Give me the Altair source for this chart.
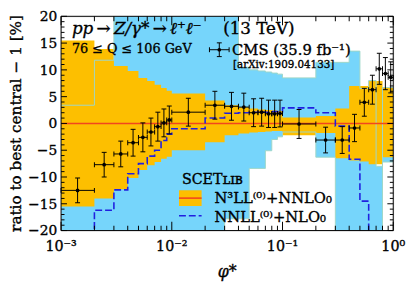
import altair as alt
import pandas as pd

# ---------------- data ----------------
# phi* bin edges (theory bins and CMS bins coincide)
edges = [0.001, 0.002, 0.003, 0.004, 0.005, 0.006, 0.007, 0.008, 0.009,
         0.01, 0.02, 0.03, 0.04, 0.05, 0.06, 0.07, 0.08, 0.09,
         0.1, 0.2, 0.3, 0.4, 0.5, 0.6, 0.7, 0.8, 0.9, 1.0]

# N3LL(0)+NNLO0 band (orange), in % relative to best central
n3ll_hi = [15.5, 13.9, 10.7, 9.8, 8.5, 7.9, 7.2, 6.6, 6.1,
           5.6, 4.3, 3.4, 3.0, 2.8, 2.6, 2.5, 2.4, 2.3,
           1.1, 1.4, 2.8, 7.0, 7.0, 7.9, 7.9, 6.7, 6.7]
n3ll_lo = [-15.5, -14.0, -12.3, -10.2, -8.7, -7.8, -7.2, -6.6, -6.2,
           -5.0, -3.5, -2.2, -1.9, -1.7, -1.6, -1.5, -1.4, -1.4,
           -2.2, -1.8, -6.5, -6.9, -7.1, -7.6, -7.6, -6.3, -6.3]

# NNLL(0)+NLO0 band (light blue) and its central value (dashed)
nnll_hi = [3.4, 11.8, 30, 30, 30, 30, 30, 30, 30,
           30, 30, 30, 10.5, 10.0, 9.8, 9.6, 9.4, 9.2,
           8.5, 11.4, 11.4, 13.5, 6.5, 8.0, -8.0, 6.7, 6.7]
nnll_lo = [-30, -30, -30, -30, -30, -30, -30, -30, -30,
           -30, -30, -17.8, -17.8, -8.4, -8.4, -5.1, -3.0, -2.5,
           -1.6, -6.3, -30, -30, -30, -30, -30, -7.2, -7.2]
nnll_central = [-30, -16.2, -12.4, -9.4, -7.5, -6.1, -5.0, -3.2, -2.0,
                -1.0, 1.0, 1.9, 2.0, 2.1, 2.1, 2.1, 2.2, 2.2,
                2.9, 2.0, -0.5, -6.7, -14.5, -30, -30, -30, -30]

# CMS 13 TeV data
cms_phi = [0.00141, 0.00245, 0.00346, 0.00447, 0.00548, 0.00648, 0.00748, 0.00849, 0.00949,
           0.0141, 0.0245, 0.0346, 0.0447, 0.0548, 0.0648, 0.0748, 0.0849, 0.0949,
           0.141, 0.245, 0.346, 0.447, 0.548, 0.648, 0.748, 0.849, 0.949]
cms_ratio = [-12.5, -7.7, -5.7, -3.6, -2.6, -1.6, -0.6, 0.1, 0.65,
             2.1, 3.4, 3.2, 3.05, 2.0, 2.1, 1.8, 1.8, 1.85,
             -0.1, -3.1, -3.1, -0.85, 3.95, 6.3, 10.2, 9.3, 8.6]
cms_err = [2.3, 2.3, 2.4, 2.5, 2.7, 2.6, 2.7, 2.6, 2.6,
           2.6, 2.6, 2.6, 2.6, 2.6, 2.6, 2.55, 2.55, 2.5,
           2.7, 2.4, 2.5, 2.55, 2.6, 2.7, 2.9, 3.0, 2.9]

# axis ticks and labels
y_major = [-20, -15, -10, -5, 0, 5, 10, 15, 20]
y_labels = ["−20", "−15", "−10", "−5", "0", "5", "10", "15", "20"]
y_minor = [v for v in range(-20, 21) if v % 5 != 0]
x_major = [0.001, 0.01, 0.1, 1.0]
x_labels = ["10⁻³", "10⁻²", "10⁻¹", "10⁰"]
x_minor = [k * 10.0 ** e for e in (-3, -2, -1) for k in range(2, 10)]

# ---------------- tables ----------------
band = pd.DataFrame({
    "x": edges,
    "ohi": n3ll_hi + [n3ll_hi[-1]],
    "olo": n3ll_lo + [n3ll_lo[-1]],
    "bhi": nnll_hi + [nnll_hi[-1]],
    "blo": nnll_lo + [nnll_lo[-1]],
    "bc": nnll_central + [nnll_central[-1]],
})
cms = pd.DataFrame({
    "x": cms_phi, "xlo": edges[:-1], "xhi": edges[1:],
    "y": cms_ratio,
    "ylo": [r - e for r, e in zip(cms_ratio, cms_err)],
    "yhi": [r + e for r, e in zip(cms_ratio, cms_err)],
})

W, H = 338, 218
FONT = "DejaVu Serif"
ORANGE = "#FDBF00"
BLUE = "#76D5FB"
EDGE = "#9ED6C8"
RED = "#F2461E"
DBLUE = "#2020E0"
TSTROKE = dict(stroke="black", strokeWidth=0.35)

xs = alt.Scale(type="log", domain=[0.001, 1.0], nice=False)
ys = alt.Scale(domain=[-20, 20], nice=False, zero=False)


def X(f):
    return alt.X(f, scale=xs, axis=None)


def Y(f):
    return alt.Y(f, scale=ys, axis=None)


base = alt.Chart(band)

blue_band = base.mark_area(interpolate="step-after", clip=True, color=BLUE, opacity=1).encode(
    x=X("x:Q"), y=Y("bhi:Q"), y2="blo:Q")
orange_band = base.mark_area(interpolate="step-after", clip=True, color=ORANGE, opacity=1).encode(
    x=X("x:Q"), y=Y("ohi:Q"), y2="olo:Q")
edge_hi = base.mark_line(interpolate="step-after", clip=True, color=EDGE, strokeWidth=1).encode(
    x=X("x:Q"), y=Y("bhi:Q"))
edge_lo = base.mark_line(interpolate="step-after", clip=True, color=EDGE, strokeWidth=1).encode(
    x=X("x:Q"), y=Y("blo:Q"))
central = alt.Chart(pd.DataFrame({"z": [0]})).mark_rule(color=RED, strokeWidth=1.6).encode(
    y=Y("z:Q"))
dashed = base.mark_line(interpolate="step-after", clip=True, color=DBLUE, strokeWidth=1.6,
                        strokeDash=[7, 3]).encode(x=X("x:Q"), y=Y("bc:Q"))

cb = alt.Chart(cms)
hbar = cb.mark_rule(color="black", strokeWidth=1, clip=True).encode(
    x=X("xlo:Q"), x2="xhi:Q", y=Y("y:Q"))
vbar = cb.mark_rule(color="black", strokeWidth=1, clip=True).encode(
    x=X("x:Q"), y=Y("ylo:Q"), y2="yhi:Q")
tkw = dict(color="black", thickness=1, opacity=1)
cap_lo = cb.mark_tick(orient="horizontal", size=5, **tkw).encode(x=X("x:Q"), y=Y("ylo:Q"))
cap_hi = cb.mark_tick(orient="horizontal", size=5, **tkw).encode(x=X("x:Q"), y=Y("yhi:Q"))
cap_l = cb.mark_tick(orient="vertical", size=5, **tkw).encode(x=X("xlo:Q"), y=Y("y:Q"))
cap_r = cb.mark_tick(orient="vertical", size=5, **tkw).encode(x=X("xhi:Q"), y=Y("y:Q"))
pts = cb.mark_circle(color="black", size=14, opacity=1).encode(x=X("x:Q"), y=Y("y:Q"))

# ---- frame ticks (inward) and tick labels ----
ymaj = alt.Chart(pd.DataFrame({"v": y_major, "lab": y_labels}))
ymin = alt.Chart(pd.DataFrame({"v": y_minor}))
xmaj = alt.Chart(pd.DataFrame({"v": x_major, "lab": x_labels}))
xmin = alt.Chart(pd.DataFrame({"v": x_minor}))
ticks = [
    ymaj.mark_tick(orient="horizontal", size=6, **tkw).encode(y=Y("v:Q"), x=alt.value(3)),
    ymaj.mark_tick(orient="horizontal", size=6, **tkw).encode(y=Y("v:Q"), x=alt.value(W - 3)),
    ymin.mark_tick(orient="horizontal", size=3.5, **tkw).encode(y=Y("v:Q"), x=alt.value(1.75)),
    ymin.mark_tick(orient="horizontal", size=3.5, **tkw).encode(y=Y("v:Q"), x=alt.value(W - 1.75)),
    xmaj.mark_tick(orient="vertical", size=9, **tkw).encode(x=X("v:Q"), y=alt.value(H - 4.5)),
    xmaj.mark_tick(orient="vertical", size=9, **tkw).encode(x=X("v:Q"), y=alt.value(4.5)),
    xmin.mark_tick(orient="vertical", size=5, **tkw).encode(x=X("v:Q"), y=alt.value(H - 2.5)),
    xmin.mark_tick(orient="vertical", size=5, **tkw).encode(x=X("v:Q"), y=alt.value(2.5)),
]
tick_labels = [
    ymaj.mark_text(font=FONT, fontSize=14, align="right", baseline="middle", dy=1, color="black",
                   **TSTROKE).encode(y=Y("v:Q"), x=alt.value(-4), text="lab:N"),
    xmaj.mark_text(font=FONT, fontSize=14.5, align="center", baseline="middle", color="black",
                   **TSTROKE).encode(x=X("v:Q"), y=alt.value(H + 17), text="lab:N"),
]

one = alt.Chart(pd.DataFrame({"a": [0]}))
frame = one.mark_rect(fill=None, stroke="black", strokeWidth=1).encode(
    x=alt.value(0), x2=alt.value(W), y=alt.value(0), y2=alt.value(H))


def txt(s, x, y, size, style="normal", weight="normal", align="left", angle=0):
    return one.mark_text(text=s, font=FONT, fontSize=size, fontStyle=style, fontWeight=weight,
                         align=align, baseline="middle", color="black", angle=angle,
                         **TSTROKE).encode(x=alt.value(x), y=alt.value(y))


T = "\u2009"
texts = [
    txt("pp" + T + "→" + T + "Z/γ*" + T + "→" + T + "ℓ⁺ℓ⁻", 11, 13, 17, style="italic"),
    txt("(13 TeV)", 165, 13, 17),
    txt("76 ≤ Q ≤ 106 GeV", 11, 33, 13),
    txt("CMS (35.9 fb⁻¹)", 174, 34, 15),
    txt("[arXiv:1909.04133]", 175, 50, 10.5),
    txt("SCETʟɪʙ", 123, 167, 14.5),
    txt("N³LL⁽⁰⁾+NNLO₀", 156, 185, 15),
    txt("NNLL⁽⁰⁾+NLO₀", 156, 204, 15),
    txt("ratio to best central − 1 [%]", -45.5, H / 2, 15.5, align="center", angle=270),
    txt("φ*", W / 2, 260, 16, style="italic", align="center"),
]

# CMS legend marker
leg = [
    one.mark_rule(color="black", strokeWidth=1).encode(x=alt.value(151), x2=alt.value(171), y=alt.value(34)),
    one.mark_rule(color="black", strokeWidth=1).encode(x=alt.value(161), y=alt.value(27), y2=alt.value(41)),
    one.mark_rule(color="black", strokeWidth=1).encode(x=alt.value(158.5), x2=alt.value(163.5), y=alt.value(27)),
    one.mark_rule(color="black", strokeWidth=1).encode(x=alt.value(158.5), x2=alt.value(163.5), y=alt.value(41)),
    one.mark_rule(color="black", strokeWidth=1).encode(x=alt.value(151), y=alt.value(31.5), y2=alt.value(36.5)),
    one.mark_rule(color="black", strokeWidth=1).encode(x=alt.value(171), y=alt.value(31.5), y2=alt.value(36.5)),
    one.mark_circle(color="black", size=14, opacity=1).encode(x=alt.value(161), y=alt.value(34)),
    # theory legend
    one.mark_rect(color=ORANGE).encode(x=alt.value(120), x2=alt.value(143), y=alt.value(177), y2=alt.value(193)),
    one.mark_rule(color=RED, strokeWidth=1.6).encode(x=alt.value(120), x2=alt.value(143), y=alt.value(185)),
    one.mark_rule(color=DBLUE, strokeWidth=1.6, strokeDash=[7, 3]).encode(
        x=alt.value(120), x2=alt.value(143), y=alt.value(203)),
]

chart = alt.layer(
    blue_band, orange_band, edge_hi, edge_lo, central, dashed,
    hbar, vbar, cap_lo, cap_hi, cap_l, cap_r, pts,
    *ticks, frame, *tick_labels, *texts, *leg,
).properties(
    width=W, height=H,
    autosize=alt.AutoSizeParams(type="none"),
    padding={"left": 54, "top": 6, "right": 14, "bottom": 56},
).configure_view(stroke=None).configure(background="white")

chart.save("out.html", embed_options={"renderer": "svg", "actions": False})
